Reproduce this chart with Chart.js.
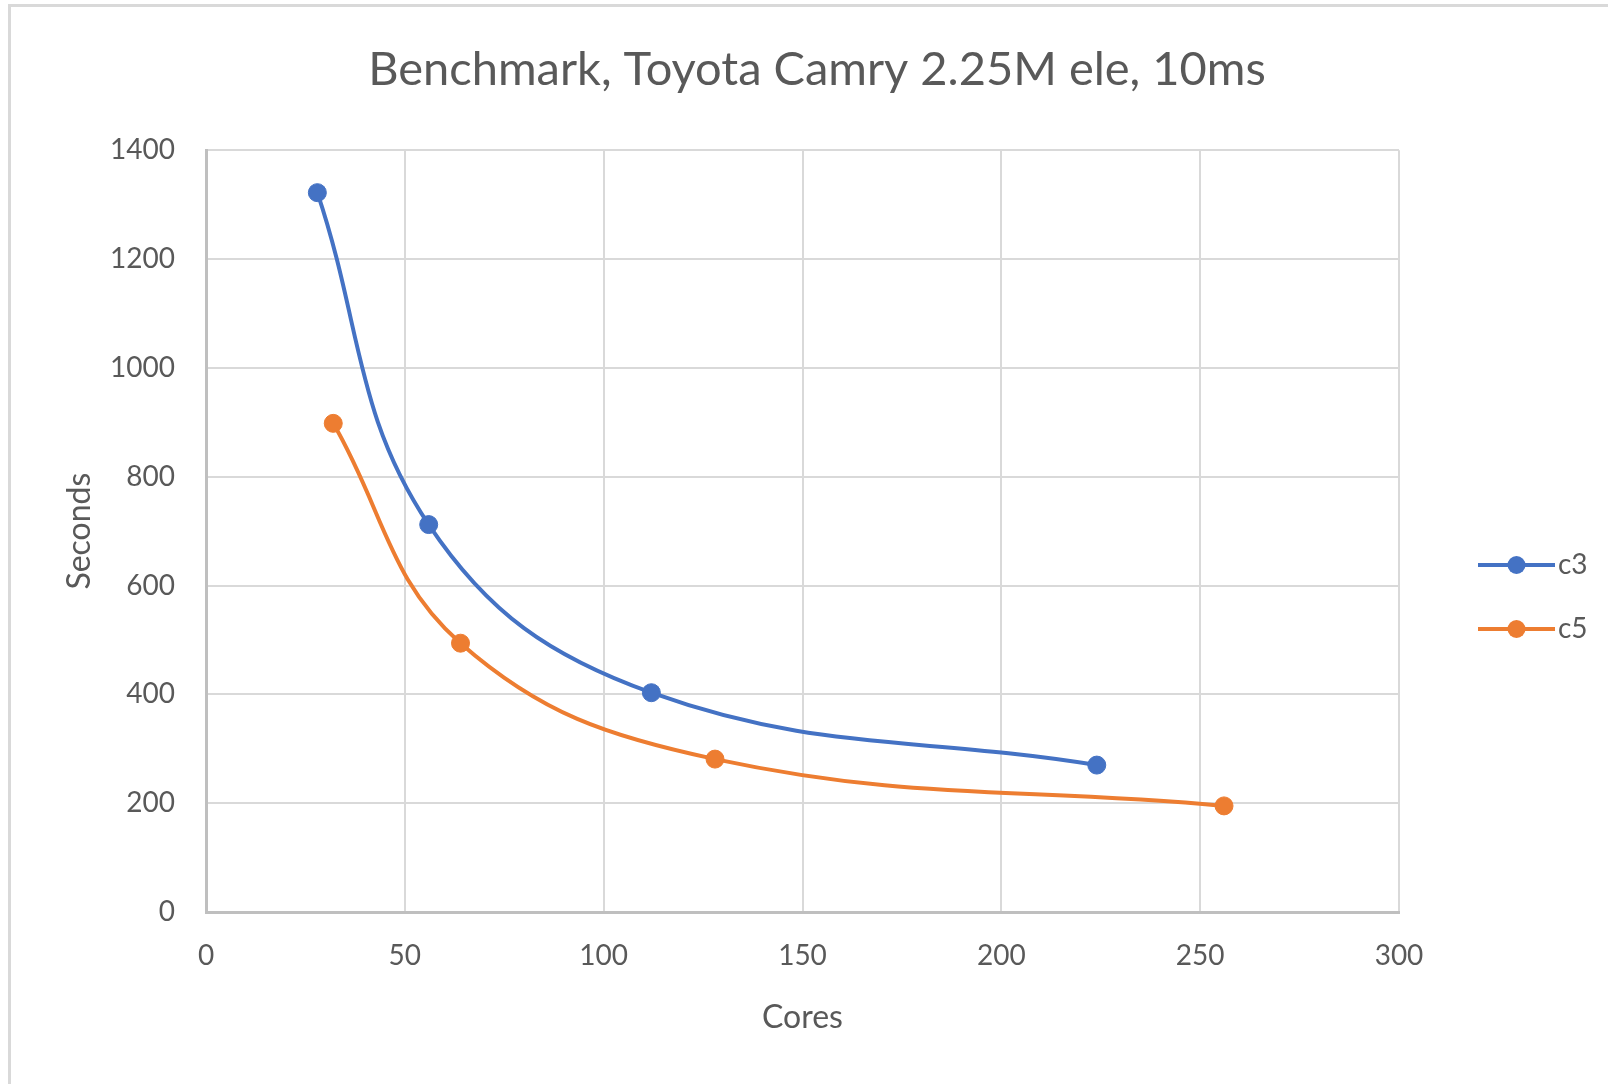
<!DOCTYPE html>
<html>
<head>
<meta charset="utf-8">
<script src="https://cdn.jsdelivr.net/npm/chart.js@4.4.1/dist/chart.umd.min.js"></script>
<style>
  html, body { margin: 0; padding: 0; background: #ffffff; }
  #wrap { position: relative; width: 1608px; height: 1084px; overflow: hidden; }
  #frame { position: absolute; left: 8px; top: 4px; right: 0; bottom: 0;
           border-top: 3px solid #d9d9d9; border-left: 3px solid #d9d9d9; pointer-events: none; }
</style>
</head>
<body>
<div id="wrap">
  <canvas id="chart" width="1608" height="1084"></canvas>
  <div id="frame"></div>
</div>
<script>
// ---- data ----
const chartTitle = 'Benchmark, Toyota Camry 2.25M ele, 10ms';
const xAxisTitle = 'Cores';
const yAxisTitle = 'Seconds';
const seriesNames = ['c3', 'c5'];
const seriesColors = ['#4472C4', '#ED7D31'];
const c3Cores = [28, 56, 112, 224];
const c3Seconds = [1322, 712, 403, 270];
const c5Cores = [32, 64, 128, 256];
const c5Seconds = [898, 494, 281, 195];
const xTickValues = [0, 50, 100, 150, 200, 250, 300];
const yTickValues = [0, 200, 400, 600, 800, 1000, 1200, 1400];

// ---- styling / layout ----
const FONT = 'Lato, "Open Sans", sans-serif';
const TEXT = '#595959';
const PLOT_LEFT = 206, PLOT_RIGHT = 1399, PLOT_BOTTOM = 912;
const LEG_FS = 28, LEG_PAD = 36, LEG_BOX = 109;

function toPoints(xs, ys) { return xs.map((x, i) => ({ x: x, y: ys[i] })); }

function legendImage(color) {
  const c = document.createElement('canvas');
  c.width = 131; c.height = 22;
  const g = c.getContext('2d');
  g.strokeStyle = color; g.lineWidth = 4;
  g.beginPath(); g.moveTo(54, 11); g.lineTo(131, 11); g.stroke();
  g.fillStyle = color;
  g.beginPath(); g.arc(92.5, 11, 9, 0, Math.PI * 2); g.fill();
  return c;
}
const legendImages = seriesColors.map(legendImage);

// right padding so that the legend starts at the plot's right edge
const mctx = document.createElement('canvas').getContext('2d');
mctx.font = LEG_FS + 'px ' + FONT;
const maxText = Math.max(...seriesNames.map(s => mctx.measureText(s).width));
const legendWidth = LEG_PAD + LEG_BOX + LEG_FS / 2 + maxText + 10;
const padRight = Math.max(0, 1608 - PLOT_RIGHT - legendWidth);
const padLeft = padRight + 26;

const datasets = [
  { label: seriesNames[0], data: toPoints(c3Cores, c3Seconds) },
  { label: seriesNames[1], data: toPoints(c5Cores, c5Seconds) }
].map((d, i) => Object.assign(d, {
  borderColor: seriesColors[i],
  backgroundColor: seriesColors[i],
  pointBackgroundColor: seriesColors[i],
  pointBorderColor: seriesColors[i],
  pointBorderWidth: 1,
  pointRadius: 9,
  borderWidth: 4,
  tension: 0.4,
  fill: false,
  showLine: true
}));

new Chart(document.getElementById('chart'), {
  type: 'scatter',
  data: { datasets: datasets },
  options: {
    responsive: false,
    animation: false,
    devicePixelRatio: 1,
    layout: { padding: { left: padLeft, right: padRight, top: 0, bottom: 0 } },
    plugins: {
      title: {
        display: true,
        text: chartTitle,
        color: TEXT,
        font: { family: FONT, size: 47, weight: 'normal' },
        padding: { top: 41.8, bottom: 52 }
      },
      legend: {
        display: true,
        position: 'right',
        align: 'center',
        title: { display: true, text: '', font: { size: 12 }, padding: { top: 95.6, bottom: 0 } },
        labels: {
          usePointStyle: true,
          pointStyleWidth: LEG_BOX,
          padding: LEG_PAD,
          color: TEXT,
          font: { family: FONT, size: LEG_FS },
          generateLabels: function (chart) {
            const items = Chart.defaults.plugins.legend.labels.generateLabels(chart);
            items.forEach((it, i) => { it.pointStyle = legendImages[i]; });
            return items;
          }
        }
      },
      tooltip: { enabled: false }
    },
    scales: {
      x: {
        type: 'linear',
        position: 'bottom',
        min: xTickValues[0],
        max: xTickValues[xTickValues.length - 1],
        afterBuildTicks: s => { s.ticks = xTickValues.map(v => ({ value: v })); },
        afterFit: s => { s.height = 1084 - PLOT_BOTTOM; },
        grid: { color: '#d9d9d9', lineWidth: 2, drawTicks: false },
        border: { color: '#bfbfbf', width: 3 },
        ticks: { color: TEXT, padding: 27, font: { family: FONT, size: 28 },
                 callback: v => String(v) },
        title: { display: true, text: xAxisTitle, color: TEXT,
                 font: { family: FONT, size: 32 }, padding: { top: 0, bottom: 46.8 } }
      },
      y: {
        type: 'linear',
        position: 'left',
        min: yTickValues[0],
        max: yTickValues[yTickValues.length - 1],
        afterBuildTicks: s => { s.ticks = yTickValues.map(v => ({ value: v })); },
        afterFit: s => { s.width = PLOT_LEFT - padLeft; },
        grid: { color: '#d9d9d9', lineWidth: 2, drawTicks: false },
        border: { color: '#bfbfbf', width: 3 },
        ticks: { color: TEXT, padding: 31, font: { family: FONT, size: 28 },
                 callback: v => String(v) },
        title: { display: true, text: yAxisTitle, color: TEXT,
                 font: { family: FONT, size: 32 }, padding: { top: 80 - 19.2 - padLeft, bottom: 0 } }
      }
    }
  }
});
</script>
</body>
</html>
